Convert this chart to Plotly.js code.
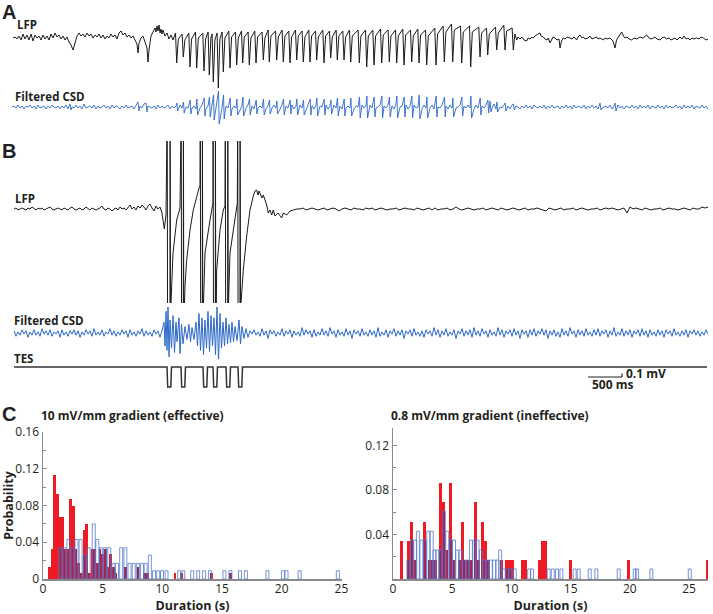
<!DOCTYPE html>
<html><head><meta charset="utf-8">
<script src="https://cdn.plot.ly/plotly-3.0.1.min.js"></script>
<style>html,body{margin:0;padding:0;background:#fff}#chart{width:713px;height:614px}</style>
</head><body><div id="chart"></div>
<script>
// ---------- DATA (time in samples of ~14.7 ms, amplitudes in display units) ----------
const msPerSample = 14.7;

// Panel A LFP: pre-ictal (t,v pairs)
const lfpA_pre = [1,0, 3,1, 5,-1, 7,2, 9,-2, 11,4, 13,-1, 15,3, 17,-2, 19,4, 21,-3, 23,3, 25,0, 27,2, 29,-2, 31,3, 33,-1, 35,2, 37,-2, 39,4, 41,0, 43,5, 45,1, 47,3, 49,-1, 51,2, 53,-2, 55,1, 57,-4, 59,-7, 61,-12, 63,-5, 65,2, 67,5, 69,2, 71,4, 73,1, 75,5, 77,2, 79,4, 81,0, 83,3, 85,1, 87,4, 89,0, 91,3, 93,-1, 95,2, 97,0, 99,4, 101,1, 103,3, 105,-1, 107,5, 109,7, 111,3, 113,5, 115,1, 117,3, 119,0, 121,2, 123,-2, 125,-6, 126,-15, 127,-5, 129,0, 131,2, 133,-4, 135,-10, 136,-24, 137,-12, 139,2, 141,6, 143,10, 144,6, 145,12, 146,7, 147,13, 148,5, 149,9, 150,4, 151,8, 153,2, 155,5, 157,-1, 159,3, 161,-2];
// Panel A LFP: ictal spikes (trough time, trough value, preceding peak value)
const lfpA_spikeT = [164.7,171.3,178,184.7,192,197.3,201.3,206.3,211.3,218,224.7,230.7,237.3,244,251.3,257.3,264.7,271.3,278,284.7,291.3,298,304.7,312,318.7,325.3,332,338.7,347.3,354.7,362,369.7,377.3,384.7,392,399.7,407,414.7,424,432.3,440.7,449.7,458.7,468,475.7,484.7,493,501.3];
const lfpA_trough = [-25,-19,-29,-30,-33,-37,-44,-50,-34,-30,-27,-25,-27,-25,-22,-24,-22,-24,-25,-22,-24,-24,-22,-25,-20,-22,-22,-24,-25,-29,-27,-25,-24,-25,-27,-24,-25,-27,-27,-24,-24,-25,-29,-19,-17,-12,-12,-12];
const lfpA_peak = [5,4,5,6,5,6,4,5,6,7,6,7,6,7,6,8,7,8,7,8,7,8,7,8,7,8,7,8,8,8,8,9,8,8,9,8,9,8,10,12,14,12,12,11,10,11,13,10];
// Panel A LFP: post-ictal (t,v pairs)
const lfpA_post = [504.7,-2, 506,1, 508,-1, 510,1, 512,-2, 514.7,-3, 516,0, 518,-1, 520,1, 521.3,0, 523,2, 526,4, 528,5, 529,2, 531.3,1, 533,-1, 535,-2, 536.3,0, 538,-5, 540,-1, 541,1, 543,0, 545,-2, 547,-1, 548,-10, 549.5,-3, 551.3,0, 553,-1, 555,1, 558,0, 560,-1, 562,1, 564.7,-2, 566,1, 568,3, 570,0, 571.3,1, 573,-1, 576,0, 578,2, 580,-1, 582,0, 584.7,1, 586,-1, 588,0, 591.3,-2, 593,0, 595,-1, 598,0, 601,-3, 603,-10, 604.5,-2, 606.3,1, 608,3, 609.7,6, 611.5,2, 613,0, 615,1, 617,-1, 619.7,-2, 622,0, 625,-1, 628,1, 631,0, 634.7,3, 637,0, 639,-1, 641.3,0, 643,1, 645,-1, 648,-2, 650,0, 652,1, 654.7,-1, 657,0, 659,-2, 661.3,-1, 663,0, 665,-2, 668,1, 670,-1, 672,2, 674,-1, 676,0, 678,-2, 680,0, 682,-1, 684.7,0, 687,-1, 689,1, 691.3,0, 694,-2, 696,-1];

// Panel A filtered CSD: background (every 2 samples from 0), ictal spike up/down amplitudes, extra events
const csdA_noise = [0,1,-1,2,-1,1,-2,1,0,2,-1,1,-2,2,-1,0,1,-2,1,-1,2,0,-1,1,-2,
1,-1,2,-2,1,0,-1,2,-1,1,-2,3,-1,0,1,-1,2,-2,1,-1,0,2,-1,1,-2,
2,-1,1,0,-2,1,-1,2,-1,0,1,-2,2,-1,1,-1,3,-2,1,0,-1,1,-2,2,-1,
1,-1,0,2,-2,1,-1,1,-3,2,-1,1,0,-1,2,-1,1,-2,1,-1,2,0,-2,1,-1,
2,-1,1,-2,2,-1,0,1,-1,2,-2,1,-1,3,-2,1,0,-1,2,-1,1,-2,2,-1,1,
-1,2,-2,1,0,-1,2,-1,1,-2,2,-1,1,-1,0,2,-2,1,-1,2,-1,1,-3,2,-1,
1,-2,2,-1,1,0,-1,2,-2,1,-1,2,-1,0,1,-2,2,-1,1,-1,2,-2,1,0,-1,
2,-1,1,-2,2,-1,1,-1,0,2,-2,1,-1,2,-1,1,-2,3,-1,0,1,-1,2,-2,1,
-1,2,-1,0,1,-2,2,-1,1,-1,2,-2,1,0,-1,2,-1,1,-2,2,-1,1,-1,0,2,
-2,1,-1,2,-1,1,-2,2,-1,0,1,-1,2,-2,1,-1,3,-2,1,0,-1,2,-1,1,-2,
2,-1,1,0,-2,1,-1,2,-1,1,-2,2,0,-1,1,-1,2,-2,1,-1,2,-1,0,1,-2,
1,-1,2,-1,1,-2,2,-1,1,0,-1,2,-2,1,-1,2,-1,1,-2,2,-1,0,1,-1,2,
-2,1,-1,2,-1,1,-2,1,0,-1,2,-1,1,-2,2,-1,1,-1,2,-2,1,0,-1,2,-1,
1,-2,2,-1,1,-1,0,2,-1,1,-2,2,-1,1,-1,2,-2,1,0,-1,2,-1,1,-2,2];
const csdA_up = [4,5,7,8,9,10,12,16,12,9,8,10,8,7,8,7,6,8,7,8,7,8,9,8,7,9,8,9,10,11,10,11,10,11,10,11,12,10,11,10,9,10,11,9,7,5,4,3];
const csdA_down = [4,6,7,8,9,10,13,17,12,9,8,9,8,7,8,7,7,8,7,8,8,8,9,8,7,9,9,9,11,11,10,11,10,11,10,11,12,11,10,10,10,9,11,8,6,5,4,3];
const csdA_extra = [58,3, 59,-3, 126,5, 127,-4, 134,4, 135,-5, 478,6, 479,-5, 588,4, 589,-3, 603,4, 604,-4];

// Panel B LFP: baseline before stimulation (every 2 samples from 2)
const lfpB_pre = [0,1,-1,0,1,0,-1,1,0,2,0,-1,1,0,1,-1,0,1,2,0,-1,0,1,0,-1,1,0,-1,1,2,0,-1,0,1,-1,0,2,0,-1,1,0,-1,0,1,3,0,-1,1,0,-2,0,1,-1,2,0,1,-1,2,4,0,2,-1,3,1,4,2,-1,3,5,1,-2,3,0,2,-4];
// Panel B LFP: stimulation artifacts and recovery (t,v pairs; artifacts saturate beyond the view)
const lfpB_stim = [152.3,-20, 154,-6, 155.2,100, 155.6,-130, 158,-130, 158.1,100, 158.5,-130, 159,-94, 161,-44, 164.7,-11, 168,1,
169.2,100, 169.6,-130, 171.3,-130, 171.4,100, 171.8,-130, 172.5,-94, 173,-77, 174.7,-51, 178,-21, 181.3,-1, 184.7,14, 187,21, 188,23,
188.3,100, 188.7,-130, 190.3,-130, 190.4,100, 190.8,-130, 191.5,-94, 193,-44, 198,-11, 201,6,
201.1,100, 201.5,-130, 203.3,-130, 203.4,100, 203.8,-130, 204.3,-94, 204.7,-61, 208,-21, 211.3,-1, 213,3,
213.3,100, 213.7,-130, 215.7,-130, 215.8,100, 216.2,-130, 216.5,-94, 218,-44, 223,-11, 225.3,6,
225.7,100, 226.1,-130, 228,-130, 228.1,100, 228.5,-130, 229,-94, 231.3,-61, 234.7,-27, 238,-1, 241.3,13, 243,18, 244.7,19, 246,14, 247,18, 248,16, 250,11, 251.3,14, 253,9, 254.7,4, 256.3,-4, 258,-1, 259.7,-6, 261.3,-1, 263,-7, 266,-4, 269.7,-9, 271.3,-4, 274.7,-6, 278,-2, 281.3,-1, 285,0];
// Panel B LFP: baseline after stimulation (every 3 samples from 288)
const lfpB_post = [0,1,-1,0,1,0,-1,0,1,-1, 0,1,0,-2,0,1,0,-1,1,0, 0,-1,1,0,1,-1,0,1,0,-1, 0,0,1,-1,0,1,0,0,-1,1, 0,-1,0,1,-1,1,-1,0,0,1, -1,0,2,0,-1,0,1,0,-1,0, 0,1,-1,0,1,0,-1,1,0,-1, 0,1,0,-1,0,1,-1,0,0,1, 0,-1,-2,1,0,-1,0,1,-1,0, 0,1,-1,0,1,0,-1,0,0,1, -1,0,1,0,1,0,-1,0,1,-4, 2,0,1,0,-1,1,0,-1,0,0, 1,-1,0,1,0,0,-1,0,1,0, -1,1,0,0,2,1,2];

// Panel B filtered CSD: background (every 2 samples from 2) and evoked burst (t,v pairs)
const csdB_noise = [2,-3,1,-2,3,-1,2,-4,1,-2,3,-2,1,-3,4,-1,2,-2,3,-3,1,-1,2,-4,3,-2,1,-3,2,
-1,3,-2,2,-4,1,-2,3,-1,2,-3,4,-2,1,-2,3,-3,1,-1,4,-2,2,-3,1,-2,3,-1,2,-4,
3,-2,1,-3,2,-1,4,-3,2,-2,1,-3,3,-1,2,-4,2,-2,3,-1,1,-3,2,-2,4,-3,1,-1,3,
-2,2,-3,1,-4,3,-1,2,-2,5,-3,1,-2,3,-2,2,-4,1,-1,3,-3,2,-2,4,-1,1,-3,2,-2,
3,-4,2,-1,3,-2,1,-3,4,-2,2,-5,3,-1,2,-3,1,-2,4,-3,2,-1,3,-4,2,-2,1,-3,5,
-2,3,-1,2,-4,3,-3,1,-2,4,-2,2,-3,5,-1,2,-4,3,-2,1,-3,4,-2,2,-5,3,-1,2,-3,
4,-2,1,-3,3,-2,2,-4,5,-3,1,-2,3,-4,2,-1,4,-3,2,-2,3,-5,2,-1,3,-3,4,-2,1,
-3,2,-4,3,-1,2,-3,5,-2,3,-4,2,-2,4,-3,1,-2,3,-5,2,-1,4,-3,2,-2,3,-4,5,-2,
2,-3,4,-1,2,-4,3,-2,1,-3,5,-2,3,-4,2,-1,3,-3,4,-2,2,-5,3,-1,2,-4,3,-2,4,
-3,2,-1,4,-2,3,-5,2,-2,3,-3,1,-4,4,-2,2,-3,5,-1,2,-4,3,-2,2,-3,4,-2,1,-3,
3,-2,4,-3,2,-1,3,-4,2,-2,5,-3,1,-2,4,-3,2,-2,3,-4,2,-1,3,-3,4,-2,2,-4,3,
-2,1,-3,3,-2,2,-4,3,-1,2,-3,4,-2,1,-3,2,-2,3,-4,2,-1,3,-2,2,-3,1,-2,3,-1];
const csdB_burst = [152,10, 153,-12, 154,20, 155,-16, 156,26, 157,-22, 158,12, 159.5,-14, 161,16, 162.5,-18, 164,10, 165,-8, 167,14, 168,-19, 169.5,8, 171,-10, 173,6, 175,-6, 177,8, 178.5,-8, 180,5, 182,-6, 184,10, 185.5,-12, 187,18, 188.5,-16, 190,14, 191.5,-20, 193,12, 194.5,-14, 196,20, 197.5,-17, 199,16, 200.5,-12, 202,14, 203.5,-20, 205,24, 206.5,-26, 208,18, 209.5,-14, 211,10, 212.5,-12, 214,14, 215.5,-10, 217,8, 218.5,-9, 220,10, 221.5,-8, 223,6, 225,-7, 227,12, 228.5,-10, 230,6, 232,-5, 234,4, 236,-4];

// TES pulses: onset times, duration, amplitude
const tesOn = [155,169,191,201,214,226];
const tesDur = 4.5;
const tesAmp = -20;

// Panel C histograms: bin centres (s) and probabilities
const effRedX = [0.53,0.75,0.98,1.20,1.42,1.65,1.87,2.09,2.31,2.54,2.76,2.98,3.21,3.43,3.65,3.88,4.10,4.32,4.54,4.77,4.99,5.21,5.44,5.66,5.88,6.11,6.9,7.95,8.5,8.75,11.05,11.6,14.1,15.7];
const effRedY = [0.013,0.033,0.113,0.093,0.067,0.067,0.033,0.033,0.087,0.080,0.033,0.017,0.007,0.053,0.060,0.007,0.033,0.033,0.017,0.033,0.027,0.033,0.013,0.027,0.013,0.007,0.013,0.013,0.007,0.007,0.007,0.007,0.007,0.007];
const effBlueX = [1.45,1.79,2.13,2.47,2.81,3.15,3.49,3.83,4.25,4.55,4.85,5.2,5.55,5.9,6.2,6.55,6.9,7.25,7.6,7.95,8.3,8.6,8.95,9.3,9.65,9.97,10.35,11.4,11.75,12.5,13.0,13.5,14.0,15.2,15.7,16.5,17.0,18.8,20.1,20.4,21.5,24.7];
const effBlueY = [0.034,0.034,0.043,0.034,0.043,0.043,0.026,0.034,0.060,0.043,0.034,0.034,0.034,0.017,0.017,0.034,0.034,0.017,0.017,0.017,0.017,0.017,0.026,0.009,0.009,0.009,0.009,0.009,0.009,0.009,0.009,0.009,0.009,0.009,0.009,0.009,0.009,0.009,0.009,0.009,0.009,0.009];
const ineRedX = [0.75,1.33,1.56,1.8,2.68,3.1,3.35,3.6,4.03,4.28,4.53,4.85,5.1,5.6,5.9,6.15,6.4,6.65,7.0,7.25,7.57,7.82,8.07,9.15,9.6,9.85,10.1,10.96,11.2,12.37,12.62,12.87,15.0,19.9,26.55];
const ineRedY = [0.034,0.034,0.051,0.017,0.051,0.017,0.017,0.017,0.086,0.069,0.026,0.086,0.017,0.017,0.051,0.017,0.017,0.017,0.069,0.017,0.051,0.034,0.017,0.017,0.017,0.017,0.017,0.017,0.017,0.017,0.034,0.034,0.017,0.017,0.017];
const ineBlueX = [1.3,1.6,1.88,2.1,2.4,2.7,2.98,3.27,3.5,3.75,4.0,4.3,4.58,4.88,5.15,5.43,5.7,6.0,6.3,6.58,6.86,7.14,7.42,7.7,7.98,8.26,8.54,8.82,9.05,9.35,9.63,9.91,10.28,11.5,11.74,13.15,13.49,13.85,14.22,15.34,15.68,16.61,17.17,19.06,20.41,20.6,21.82,25.06];
const ineBlueY = [0.017,0.035,0.035,0.043,0.035,0.035,0.043,0.043,0.026,0.026,0.026,0.061,0.043,0.035,0.035,0.026,0.026,0.017,0.017,0.035,0.035,0.035,0.026,0.017,0.017,0.017,0.017,0.017,0.026,0.009,0.009,0.009,0.009,0.009,0.009,0.009,0.009,0.009,0.009,0.009,0.009,0.009,0.009,0.009,0.009,0.009,0.009,0.009];

// ---------- BUILD ----------
function pairs(a){const t=[],v=[];for(let i=0;i<a.length;i+=2){t.push(a[i]);v.push(a[i+1]);}return {t,v};}
function sampled(vals,t0,dt){return {t:vals.map((_,i)=>t0+i*dt),v:vals.slice()};}
function concat(...s){return {t:[].concat(...s.map(x=>x.t)),v:[].concat(...s.map(x=>x.v))};}
function merge(...s){const p=[];s.forEach(x=>x.t.forEach((t,i)=>p.push([t,x.v[i]])));p.sort((a,b)=>a[0]-b[0]);return {t:p.map(q=>q[0]),v:p.map(q=>q[1])};}

const spk={t:[],v:[]};
lfpA_spikeT.forEach((T,i)=>{spk.t.push(T-1.2,T,T+1.6);spk.v.push(lfpA_peak[i],lfpA_trough[i],lfpA_peak[i]-6);});
const lfpA = concat(pairs(lfpA_pre),spk,pairs(lfpA_post));

const csdSpk={t:[],v:[]};
lfpA_spikeT.forEach((T,i)=>{csdSpk.t.push(T+0.2,T+0.9);csdSpk.v.push(csdA_up[i],-csdA_down[i]);});
const extraA = pairs(csdA_extra);
const evT = csdSpk.t.concat(extraA.t);
const nA = sampled(csdA_noise,0,2);
const nAf={t:[],v:[]};
nA.t.forEach((t,i)=>{if(!evT.some(e=>Math.abs(e-t)<0.8)){nAf.t.push(t);nAf.v.push(nA.v[i]);}});
const csdA = merge(nAf,csdSpk,extraA);

const lfpB = concat(sampled(lfpB_pre,2,2),pairs(lfpB_stim),sampled(lfpB_post,288,3));

const burst = pairs(csdB_burst);
const bMin=Math.min(...burst.t), bMax=Math.max(...burst.t);
const nB = sampled(csdB_noise,2,2);
const nBf={t:[],v:[]};
nB.t.forEach((t,i)=>{if(t<bMin-0.5||t>bMax+0.5){nBf.t.push(t);nBf.v.push(nB.v[i]);}});
const csdB = merge(nBf,burst);

const tes={t:[2],v:[0]};
tesOn.forEach(o=>{tes.t.push(o,o+0.7,o+tesDur-0.7,o+tesDur);tes.v.push(0,tesAmp,tesAmp,0);});
tes.t.push(695);tes.v.push(0);

// overlap of the two histograms (drawn darker where both distributions are present)
function overlap(rx,ry,rw,bx,by,bw){const x=[],y=[],w=[];
 bx.forEach((b,i)=>rx.forEach((r,j)=>{const l=Math.max(b-bw/2,r-rw/2),rr=Math.min(b+bw/2,r+rw/2);
  if(rr>l){x.push((l+rr)/2);w.push(rr-l);y.push(Math.min(by[i],ry[j]));}}));
 return {x,y,w};}

const BLUE='rgb(45,105,200)', RED='#ed1c24', OUT='#5479cc', MIX='rgb(165,36,80)';
const traces=[
 {x:lfpA.t,y:lfpA.v,xaxis:'x',yaxis:'y',type:'scatter',mode:'lines',line:{color:'#1a1a1a',width:1},hoverinfo:'skip'},
 {x:csdA.t,y:csdA.v,xaxis:'x',yaxis:'y2',type:'scatter',mode:'lines',line:{color:BLUE,width:0.9},hoverinfo:'skip'},
 {x:lfpB.t,y:lfpB.v,xaxis:'x',yaxis:'y3',type:'scatter',mode:'lines',line:{color:'#1a1a1a',width:1},hoverinfo:'skip'},
 {x:csdB.t,y:csdB.v,xaxis:'x',yaxis:'y4',type:'scatter',mode:'lines',line:{color:BLUE,width:1},hoverinfo:'skip'},
 {x:tes.t,y:tes.v,xaxis:'x',yaxis:'y5',type:'scatter',mode:'lines',line:{color:'#333',width:1.5},hoverinfo:'skip'}
];
function hist(rx,ry,rw,bx,by,bw,xa,ya){
 const ov=overlap(rx,ry,rw,bx,by,bw);
 traces.push({type:'bar',x:rx,y:ry,width:rw,xaxis:xa,yaxis:ya,name:'stimulated',marker:{color:RED,line:{width:0}}});
 traces.push({type:'bar',x:ov.x,y:ov.y,width:ov.w,xaxis:xa,yaxis:ya,name:'both',marker:{color:MIX,line:{width:0}}});
 traces.push({type:'bar',x:bx,y:by,width:bw,xaxis:xa,yaxis:ya,name:'control',marker:{color:'rgba(255,255,255,0)',line:{color:OUT,width:0.8}}});
}
hist(effRedX,effRedY,0.225,effBlueX,effBlueY,0.25,'x2','y6');
hist(ineRedX,ineRedY,0.25,ineBlueX,ineBlueY,0.25,'x3','y7');

const W=713,H=614;
const px=v=>v/W, py=v=>1-v/H;
const hidden={visible:false,fixedrange:true,showgrid:false,zeroline:false};
const AX='#8a8a8a', TXT='#231f20', FONT='Open Sans, sans-serif';
const histAxis={showline:true,linecolor:AX,linewidth:1.5,showgrid:false,zeroline:false,tickfont:{family:FONT,size:12,color:TXT},tickcolor:AX,fixedrange:true};
const layout={
 width:W,height:H,margin:{l:0,r:0,t:0,b:0},paper_bgcolor:'#fff',plot_bgcolor:'rgba(0,0,0,0)',
 showlegend:false,barmode:'overlay',bargap:0,font:{family:FONT,color:TXT},
 xaxis:Object.assign({domain:[px(12),px(708)],range:[0,696],anchor:'y'},hidden),
 yaxis:Object.assign({domain:[py(95),py(15)],range:[-57,23],anchor:'x'},hidden),
 yaxis2:Object.assign({domain:[py(126),py(88)],range:[-19,19],anchor:'x'},hidden),
 yaxis3:Object.assign({domain:[py(303),py(141)],range:[-94,68],anchor:'x'},hidden),
 yaxis4:Object.assign({domain:[py(359),py(307)],range:[-24,24],anchor:'x'},hidden),
 yaxis5:Object.assign({domain:[py(392),py(360)],range:[-25,7],anchor:'x'},hidden),
 xaxis2:Object.assign({},histAxis,{domain:[px(43),px(342)],range:[0,25.05],anchor:'y6',tickvals:[0,5,10,15,20,25],ticks:'',ticklabelstandoff:-2,
   title:{text:'<b>Duration (s)</b>',font:{family:FONT,size:12.5,color:TXT},standoff:0}}),
 yaxis6:Object.assign({},histAxis,{domain:[py(579),py(432)],range:[0,0.16],anchor:'x2',tickvals:[0,0.04,0.08,0.12,0.16],ticktext:['0','0.04','0.08','0.12','0.16'],ticks:'inside',ticklen:4,
   minor:{tickvals:[0.02,0.06,0.10,0.14],ticks:'inside',ticklen:3,tickcolor:AX},
   title:{text:'<b>Probability</b>',font:{family:FONT,size:12.5,color:TXT},standoff:2}}),
 xaxis3:Object.assign({},histAxis,{domain:[px(393),px(708)],range:[0,26.6],anchor:'y7',tickvals:[0,5,10,15,20,25],ticks:'',ticklabelstandoff:-2,
   title:{text:'<b>Duration (s)</b>',font:{family:FONT,size:12.5,color:TXT},standoff:0}}),
 yaxis7:Object.assign({},histAxis,{domain:[py(579),py(428)],range:[0,0.1357],anchor:'x3',tickvals:[0.04,0.08,0.12],ticktext:['0.04','0.08','0.12'],ticks:'inside',ticklen:4,
   minor:{tickvals:[0.02,0.06,0.10],ticks:'inside',ticklen:3,tickcolor:AX}}),
 shapes:[
  {type:'line',xref:'x',yref:'paper',x0:576,x1:576+500/msPerSample,y0:py(377),y1:py(377),line:{color:'#222',width:1.2}},
  {type:'line',xref:'x',yref:'paper',x0:576+500/msPerSample,x1:576+500/msPerSample,y0:py(377),y1:py(373.5),line:{color:'#222',width:1.2}}
 ],
 annotations:[]
};
const LET='Liberation Sans, Arial, sans-serif';
const letters=[['<b>A</b>',1,0],['<b>B</b>',1,139],['<b>C</b>',1,402]];
letters.forEach(n=>layout.annotations.push({text:n[0],xref:'paper',yref:'paper',x:px(n[1]),y:py(n[2]),xanchor:'left',yanchor:'top',showarrow:false,borderpad:0,font:{family:LET,size:20,color:TXT}}));
const notes=[
 ['<b>LFP</b>',15,24,11.5],['<b>Filtered CSD</b>',13,97,11.5],
 ['<b>LFP</b>',13,199,11.5],['<b>Filtered CSD</b>',11.5,320,11.5],['<b>TES</b>',11.5,358,11.5],
 ['<b>0.1 mV</b>',624,373,12],['<b>500 ms</b>',590,385,12],
 ['<b>10 mV/mm gradient (effective)</b>',39,415,12],['<b>0.8 mV/mm gradient (ineffective)</b>',389,415,12]
];
notes.forEach(n=>layout.annotations.push({text:n[0],xref:'paper',yref:'paper',x:px(n[1]),y:py(n[2]),xanchor:'left',yanchor:'middle',showarrow:false,font:{family:FONT,size:n[3],color:TXT}}));

Plotly.newPlot(document.getElementById('chart'),traces,layout,{staticPlot:true,displayModeBar:false});
</script></body></html>
